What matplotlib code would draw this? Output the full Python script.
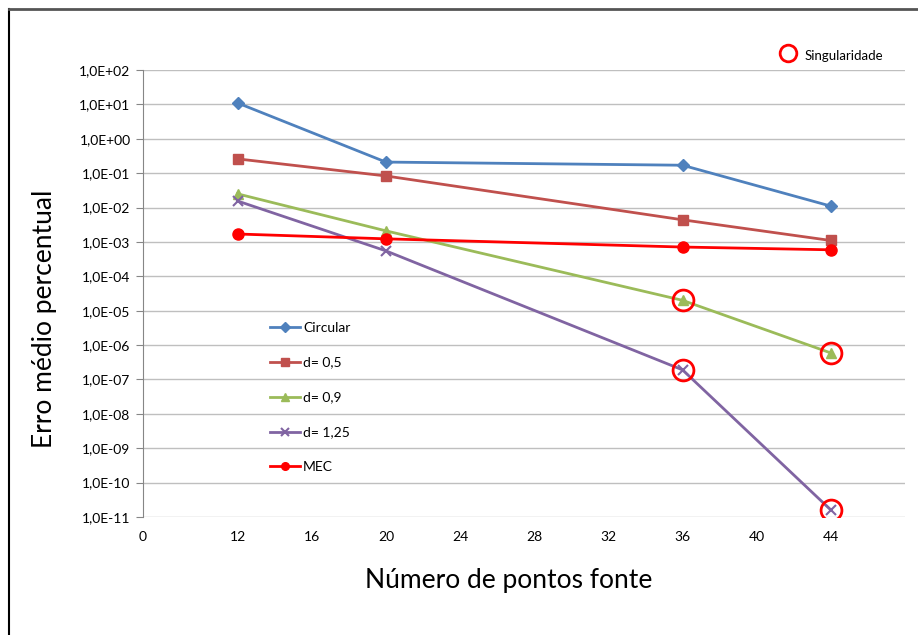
import matplotlib.pyplot as plt
from matplotlib.lines import Line2D

plt.rcParams['font.family'] = ['Lato', 'DejaVu Sans']

pontos = [12, 20, 36, 44]
circular = [1.1e1, 0.21, 0.17, 0.011]
d05 = [0.26, 0.083, 0.0044, 0.0011]
d09 = [0.025, 0.0021, 2.0e-5, 5.9e-7]
d125 = [0.0155, 5.5e-4, 1.9e-7, 1.6e-11]
mec = [0.0017, 0.00123, 0.00071, 0.00059]
# singularity points (x, y)
sing_x = [36, 44, 36, 44]
sing_y = [2.0e-5, 5.9e-7, 1.9e-7, 1.6e-11]

xticks = [12, 16, 20, 24, 28, 32, 36, 40, 44]
yexp = list(range(-11, 3))

fig = plt.figure(figsize=(9.18, 6.35), dpi=100)
ax = fig.add_axes([143 / 918, 1 - 517 / 635, (905 - 143) / 918, (517 - 70) / 635])

ax.plot(pontos, circular, color='#4F81BD', marker='D', ms=6, lw=2, label='Circular')
ax.plot(pontos, d05, color='#C0504D', marker='s', ms=7, lw=2, label='d= 0,5')
ax.plot(pontos, d09, color='#9BBB59', marker='^', ms=7, lw=2, label='d= 0,9')
ax.plot(pontos, d125, color='#8064A2', marker='x', ms=7, mew=1.5, lw=2, label='d= 1,25')
ax.plot(pontos, mec, color='#FF0000', marker='o', ms=8, lw=2, label='MEC')
ax.plot(sing_x, sing_y, ls='none', marker='o', ms=15, mfc='none', mec='#FF0000', mew=2)

ax.set_yscale('log')
ax.set_ylim(1e-11, 1e2)
ax.set_yticks([10.0 ** e for e in yexp])
ax.set_yticklabels(['1,0E%+03d' % e for e in yexp], fontsize=10)
ax.minorticks_off()
ax.set_xlim(6.9, 48)
ax.set_xticks([6.9] + xticks)
ax.set_xticklabels(['0'] + [str(t) for t in xticks], fontsize=10)
ax.tick_params(axis='x', length=0, pad=10)
ax.tick_params(axis='y', length=5, color='#868686', pad=4)
ax.grid(axis='y', color='#BFBFBF', lw=1)
for s in ['top', 'right', 'bottom']:
    ax.spines[s].set_visible(False)
ax.spines['left'].set_color('#868686')

ax.set_ylabel('Erro médio percentual', fontsize=19, labelpad=12)
ax.yaxis.set_label_coords(-0.113, 0.443)
ax.set_xlabel('Número de pontos fonte', fontsize=19, labelpad=16)
ax.xaxis.set_label_coords(0.48, -0.113)

leg = ax.legend(loc='upper left', bbox_to_anchor=(0.15, 0.465), frameon=False,
                fontsize=10, labelspacing=1.65, handlelength=2.2, handletextpad=0.2)
for h in leg.legend_handles:
    h.set_markersize(5.5)

fig.lines.append(Line2D([788 / 918], [1 - 53 / 635], transform=fig.transFigure,
                        marker='o', ms=12, mfc='none', mec='#FF0000', mew=2, ls='none'))
fig.text(805 / 918, 1 - 56 / 635, 'Singularidade', fontsize=9.5, va='center')

# outer frame
fig.lines.append(Line2D([9 / 918, 9 / 918], [0, 1 - 9 / 635], transform=fig.transFigure, color='black', lw=1.5))
fig.lines.append(Line2D([9 / 918, 1], [1 - 9 / 635, 1 - 9 / 635], transform=fig.transFigure, color='#555555', lw=2))

fig.savefig('out.png', dpi=100)
